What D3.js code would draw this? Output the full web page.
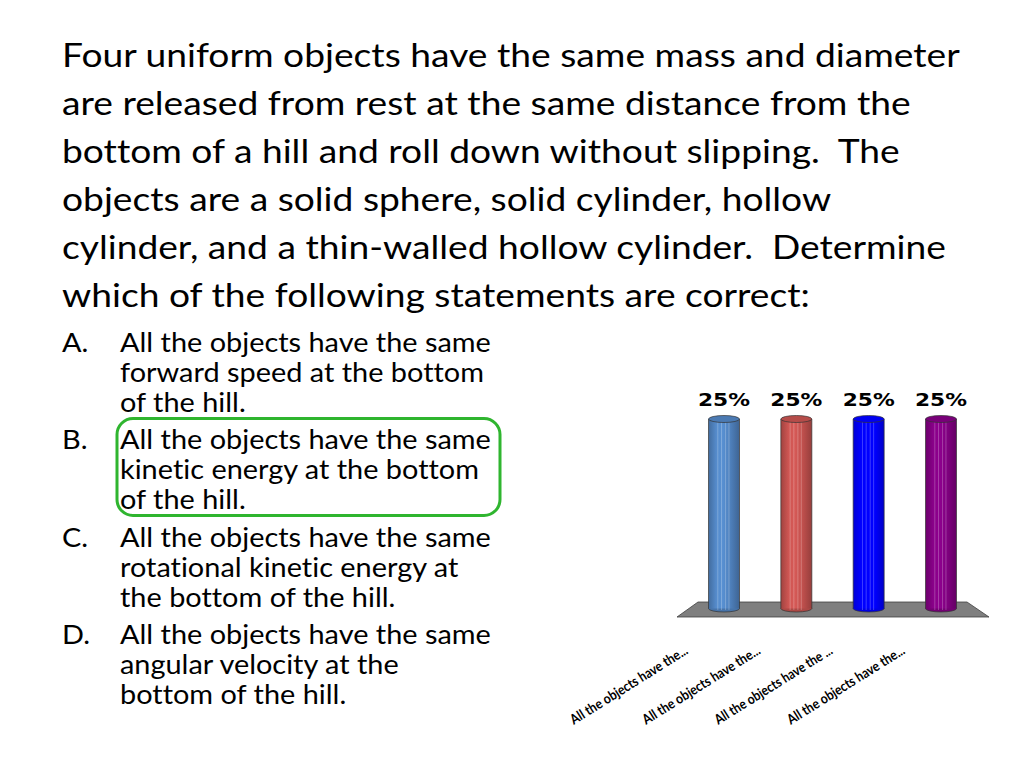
<!DOCTYPE html>
<html>
<head>
<meta charset="utf-8">
<script src="https://cdn.jsdelivr.net/npm/d3@7"></script>
<style>
  html, body { margin: 0; padding: 0; background: #fff; }
  svg { display: block; }
  text { font-variant-ligatures: none; font-feature-settings: "liga" 0, "clig" 0; }
</style>
</head>
<body>
<div id="slide"></div>
<script>
// slide text
var titleLines = [
    "Four uniform objects have the same mass and diameter",
    "are released from rest at the same distance from the",
    "bottom of a hill and roll down without slipping.  The",
    "objects are a solid sphere, solid cylinder, hollow",
    "cylinder, and a thin-walled hollow cylinder.  Determine",
    "which of the following statements are correct:"
];
var optionLetters = ["A.", "B.", "C.", "D."];
var optionLines = [
    ["All the objects have the same", "forward speed at the bottom", "of the hill."],
    ["All the objects have the same", "kinetic energy at the bottom", "of the hill."],
    ["All the objects have the same", "rotational kinetic energy at", "the bottom of the hill."],
    ["All the objects have the same", "angular velocity at the", "bottom of the hill."]
];
var correctOption = 1;

// chart data
var categories = [
    "All the objects have the...",
    "All the objects have the...",
    "All the objects have the ...",
    "All the objects have the..."
];
var values = [25, 25, 25, 25];

var barColors = ["#4f81bd", "#c0504d", "#0000ff", "#800080"];

var svg = d3.select("#slide").append("svg")
    .attr("width", 1024)
    .attr("height", 768);

var font = "Lato, 'Open Sans', sans-serif";

// ---- title ----
var title = svg.append("g");
var titleText = title.selectAll("text")
    .data(titleLines)
    .enter()
    .append("text")
    .attr("x", 0)
    .attr("y", (d, i) => 67 + i * 48)
    .attr("font-family", font)
    .attr("font-size", 33.5)
    .attr("fill", "#000")
    .style("white-space", "pre")
    .text(d => d);
var w0 = titleText.node().getComputedTextLength();
title.attr("transform", "translate(62,0) scale(" + (898 / w0) + ",1)");

// ---- options ----
var opts = svg.append("g");
var letterG = svg.append("g");
optionLines.forEach((lines, k) => {
    var base = 352 + k * 97.5;
    letterG.append("text")
        .attr("x", 0)
        .attr("y", base)
        .attr("font-family", font)
        .attr("font-size", 26.5)
        .text(optionLetters[k]);
    lines.forEach((line, j) => {
        opts.append("text")
            .attr("x", 0)
            .attr("y", base + j * 30)
            .attr("font-family", font)
            .attr("font-size", 26.5)
            .text(line);
    });
});
var w1 = opts.select("text").node().getComputedTextLength();
var sx = 371 / w1;
opts.attr("transform", "translate(120,0) scale(" + sx + ",1)");
letterG.attr("transform", "translate(62,0) scale(" + sx + ",1)");

// answer box
svg.append("rect")
    .attr("x", 117)
    .attr("y", 352 + correctOption * 97.5 - 31)
    .attr("width", 383)
    .attr("height", 97)
    .attr("rx", 16)
    .attr("fill", "none")
    .attr("stroke", "#2fb52f")
    .attr("stroke-width", 3);

// ---- chart ----
var x = d3.scalePoint()
    .domain(d3.range(values.length))
    .range([724, 941]);

var y = d3.scaleLinear()
    .domain([0, 25])
    .range([612, 419]);

var barW = 31, ry = 3.5;

var defs = svg.append("defs");
barColors.forEach((c, i) => {
    var g = defs.append("linearGradient")
        .attr("id", "cyl" + i)
        .attr("x1", "0%").attr("x2", "100%")
        .attr("y1", "0%").attr("y2", "0%");
    var stops = [
        [0, d3.color(c).darker(0.5)],
        [0.25, d3.color(c).brighter(0.2)],
        [0.45, d3.color(c).brighter(0.3)],
        [0.7, d3.color(c)],
        [1, d3.color(c).darker(0.7)]
    ];
    stops.forEach(s => {
        g.append("stop").attr("offset", s[0]).attr("stop-color", s[1]);
    });
});

// floor
var x0 = x.range()[0], x1 = x.range()[1];
var floorTop = y(0) - 10, floorBot = y(0) + 5;
svg.append("polygon")
    .attr("points", [
        [x0 - 47, floorBot], [x0 - 26, floorTop],
        [x1 + 26, floorTop], [x1 + 48, floorBot]
    ].map(p => p.join(",")).join(" "))
    .attr("fill", "#7f7f7f")
    .attr("stroke", "#404040")
    .attr("stroke-width", 0.8);

var bars = svg.selectAll("g.bar")
    .data(values)
    .enter()
    .append("g")
    .attr("class", "bar");

bars.append("ellipse")
    .attr("cx", (d, i) => x(i))
    .attr("cy", y(0) - ry)
    .attr("rx", barW / 2)
    .attr("ry", ry)
    .attr("fill", (d, i) => d3.color(barColors[i]).darker(0.3))
    .attr("stroke", "#333")
    .attr("stroke-width", 0.7);

bars.append("rect")
    .attr("x", (d, i) => x(i) - barW / 2)
    .attr("y", d => y(d))
    .attr("width", barW)
    .attr("height", d => y(0) - ry - y(d))
    .attr("fill", (d, i) => "url(#cyl" + i + ")");

// side outlines
bars.append("path")
    .attr("d", (d, i) => {
        var l = x(i) - barW / 2, r = x(i) + barW / 2;
        return "M" + l + "," + y(d) + "V" + (y(0) - ry) +
            "M" + r + "," + y(d) + "V" + (y(0) - ry);
    })
    .attr("stroke", "#333")
    .attr("stroke-width", 0.7);

// facet highlights
[0.3, 0.42, 0.55, 0.66].forEach(f => {
    bars.append("line")
        .attr("x1", (d, i) => x(i) - barW / 2 + barW * f)
        .attr("x2", (d, i) => x(i) - barW / 2 + barW * f)
        .attr("y1", d => y(d))
        .attr("y2", y(0) - 2)
        .attr("stroke", "#fff")
        .attr("stroke-opacity", 0.3)
        .attr("stroke-width", 0.8);
});

bars.append("ellipse")
    .attr("cx", (d, i) => x(i))
    .attr("cy", d => y(d))
    .attr("rx", barW / 2)
    .attr("ry", ry)
    .attr("fill", (d, i) => d3.color(barColors[i]).darker(0.15))
    .attr("stroke", "#333")
    .attr("stroke-width", 0.7);

// value labels
svg.selectAll("text.val")
    .data(values)
    .enter()
    .append("text")
    .attr("class", "val")
    .attr("x", (d, i) => x(i))
    .attr("y", d => y(d) - 13)
    .attr("text-anchor", "middle")
    .attr("font-family", "'DejaVu Sans', Verdana, sans-serif")
    .attr("font-weight", "bold")
    .attr("font-size", 17.5)
    .attr("textLength", 52)
    .attr("lengthAdjust", "spacingAndGlyphs")
    .text(d => d + "%");

// category labels
svg.selectAll("text.cat")
    .data(categories)
    .enter()
    .append("text")
    .attr("class", "cat")
    .attr("text-anchor", "end")
    .attr("transform", (d, i) => "translate(" + (x(i) - 35) + "," + (y(0) + 41) + ") rotate(-32)")
    .attr("font-family", font)
    .attr("font-size", 14)
    .attr("font-weight", "bold")
    .attr("textLength", 136)
    .attr("lengthAdjust", "spacingAndGlyphs")
    .attr("fill", "#000")
    .text(d => d);
</script>
</body>
</html>
